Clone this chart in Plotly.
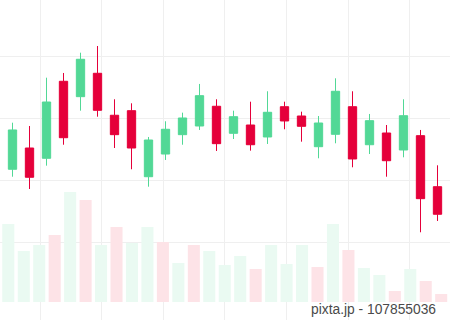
import plotly.graph_objects as go

# ---- candle data (price units) ----
candle_idx = list(range(26))
opens  = [81.89, 85.32, 83.66, 96.08, 93.60, 97.37, 90.60, 91.34, 80.69, 84.35,
          87.47, 88.87, 92.05, 87.69, 89.03, 87.10, 91.98, 90.48, 85.53, 87.53,
          91.98, 85.85, 87.74, 85.00, 87.31, 79.08]
highs  = [89.40, 88.87, 96.66, 97.42, 100.69, 101.77, 93.18, 92.53, 87.10, 89.63,
          91.02, 95.65, 93.18, 91.34, 92.79, 94.47, 92.79, 91.18, 90.48, 96.56,
          94.47, 90.81, 89.03, 93.18, 88.23, 82.53]
lows   = [80.69, 78.71, 82.47, 85.85, 91.34, 90.37, 85.32, 81.89, 79.08, 83.39,
          85.85, 88.23, 84.84, 86.77, 84.89, 85.97, 88.34, 86.34, 83.66, 86.08,
          82.21, 84.35, 80.69, 83.82, 71.73, 73.55]
closes = [88.23, 80.60, 92.74, 86.98, 99.63, 91.40, 87.47, 85.32, 86.61, 88.34,
          90.16, 93.76, 86.02, 90.37, 85.85, 91.08, 89.68, 88.82, 89.35, 94.47,
          83.55, 89.73, 83.27, 90.53, 77.15, 74.63]

# ---- volume data ----
vol_idx = list(range(29))
volumes = [78, 51, 57, 67, 110, 102, 57, 75, 59, 75, 60, 39, 57, 51, 37,
           46, 33, 57, 38, 57, 35, 78, 52, 34, 27, 11, 33, 21, 8]
vol_up  = [1, 1, 1, 0, 1, 0, 1, 0, 1, 1, 0, 1, 0, 1, 1,
           1, 0, 1, 1, 1, 0, 1, 0, 1, 1, 0, 1, 0, 0]

GREEN = "#52d896"
RED = "#e5003a"
VGREEN = "#eafaf2"
VPINK = "#fde3e7"

fig = go.Figure()

fig.add_trace(go.Bar(
    x=vol_idx, y=volumes,
    marker=dict(color=[VGREEN if u else VPINK for u in vol_up], line=dict(width=0)),
    width=0.78,
    xaxis="x2", yaxis="y2",
    hoverinfo="skip",
    showlegend=False,
))

fig.add_trace(go.Candlestick(
    x=candle_idx, open=opens, high=highs, low=lows, close=closes,
    increasing=dict(line=dict(color=GREEN, width=1), fillcolor=GREEN),
    decreasing=dict(line=dict(color=RED, width=1), fillcolor=RED),
    showlegend=False,
))

fig.update_layout(
    width=450, height=320,
    margin=dict(l=0, r=0, t=0, b=0),
    paper_bgcolor="white", plot_bgcolor="white",
    showlegend=False,
    xaxis=dict(
        range=[-0.735, 25.735],
        rangeslider=dict(visible=False),
        showticklabels=False, ticks="",
        showgrid=True, gridcolor="#efefef", gridwidth=1,
        tick0=1.618, dtick=3.627,
        zeroline=False, showline=False,
    ),
    yaxis=dict(
        range=[57.58, 109.19],
        showticklabels=False, ticks="",
        showgrid=True, gridcolor="#efefef", gridwidth=1,
        tickvals=[70, 80, 90, 100],
        zeroline=False, showline=False,
    ),
    xaxis2=dict(
        overlaying="x", range=[-0.537, 28.57],
        showticklabels=False, ticks="", showgrid=False,
        zeroline=False, showline=False,
    ),
    yaxis2=dict(
        overlaying="y", range=[-18, 302],
        showticklabels=False, ticks="", showgrid=False,
        zeroline=False, showline=False,
    ),
    annotations=[dict(
        text="pixta.jp - 107855036",
        xref="paper", yref="paper", x=0.973, y=0.0, xanchor="right", yanchor="bottom",
        showarrow=False, yshift=1,
        font=dict(family="Liberation Sans, Arial, sans-serif", size=13.8, color="#4a4a4a"),
    )],
)

fig.write_html("out.html")
